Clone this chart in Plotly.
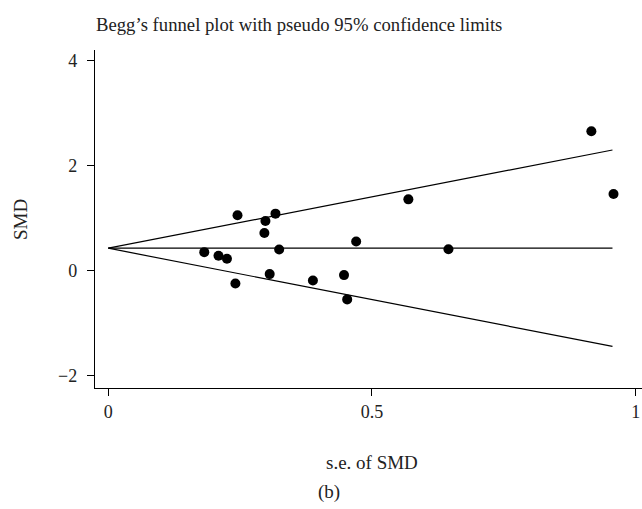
import plotly.graph_objects as go

# Study points: standard error of SMD (x) and SMD (y)
se_smd = [0.182, 0.209, 0.225, 0.245, 0.241, 0.298, 0.296, 0.317, 0.324,
          0.306, 0.388, 0.447, 0.453, 0.470, 0.569, 0.645, 0.916, 0.958]
smd = [0.355, 0.285, 0.228, 1.057, -0.241, 0.949, 0.721, 1.088, 0.405,
       -0.063, -0.184, -0.082, -0.544, 0.557, 1.360, 0.410, 2.657, 1.461]

# Pseudo 95% confidence limits and pooled estimate (line endpoints)
line_se = [0.0, 0.956]
upper_limit = [0.43, 2.30]
lower_limit = [0.43, -1.44]
pooled = [0.43, 0.43]

x_ticks = [0, 0.5, 1]
x_tick_labels = ["0", "0.5", "1"]
y_ticks = [-2, 0, 2, 4]
y_tick_labels = ["\u22122", "0", "2", "4"]

FONT = "Liberation Serif"
TXT = "#222222"

fig = go.Figure()
for yy in (upper_limit, pooled, lower_limit):
    fig.add_trace(go.Scatter(x=line_se, y=yy, mode="lines",
                             line=dict(color="black", width=1.2),
                             showlegend=False, hoverinfo="skip"))
fig.add_trace(go.Scatter(x=se_smd, y=smd, mode="markers",
                         marker=dict(color="black", size=10),
                         showlegend=False))

fig.update_layout(
    width=642, height=509,
    margin=dict(l=95, r=0, t=50, b=121),
    paper_bgcolor="white", plot_bgcolor="white",
    font=dict(family=FONT, size=18, color=TXT),
    title=dict(text="Begg\u2019s funnel plot with pseudo 95% confidence limits",
               x=96 / 642, xanchor="left", xref="container",
               y=1 - 24 / 509, yanchor="middle", yref="container",
               font=dict(family=FONT, size=18.7, color=TXT)),
)
fig.update_xaxes(range=[-0.0252, 1.012], tickvals=x_ticks, ticktext=x_tick_labels,
                 showgrid=False, zeroline=False, showline=True, linecolor="black",
                 linewidth=1.3, ticks="outside", ticklen=7, tickcolor="black",
                 tickwidth=1.2, tickfont=dict(size=18))
fig.update_yaxes(range=[-2.231, 4.203], tickvals=y_ticks, ticktext=y_tick_labels,
                 showgrid=False, zeroline=False, showline=True, linecolor="black",
                 linewidth=1.3, ticks="outside", ticklen=7, tickcolor="black",
                 tickwidth=1.2, ticklabelstandoff=6, tickfont=dict(size=18))

fig.add_annotation(text="s.e. of SMD", xref="paper", yref="paper",
                   x=(372 - 95) / 547, y=(388 - 462) / 338, showarrow=False,
                   xanchor="center", yanchor="middle", font=dict(size=19))
fig.add_annotation(text="SMD", xref="paper", yref="paper",
                   x=(20 - 95) / 547, y=(388 - 220) / 338, showarrow=False,
                   textangle=-90, xanchor="center", yanchor="middle",
                   font=dict(size=19))
fig.add_annotation(text="(b)", xref="paper", yref="paper",
                   x=(329 - 95) / 547, y=(388 - 492) / 338, showarrow=False,
                   xanchor="center", yanchor="middle", font=dict(size=19))

fig.write_html("out.html",
               config={"displayModeBar": False},
               post_script="document.body.style.margin='0';"
                           "document.body.style.overflow='hidden';")
